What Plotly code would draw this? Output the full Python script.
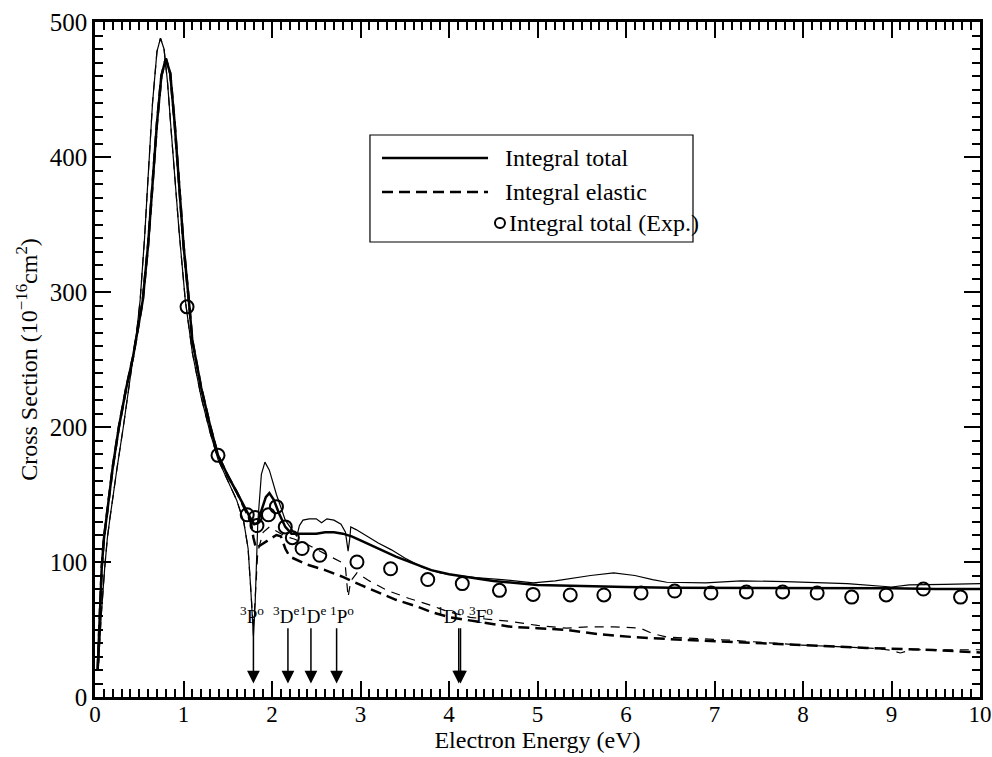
import plotly.graph_objects as go

# ---------------- data ----------------
# Theory (thick solid): integral total cross section
tot_E = [0.03, 0.05, 0.076, 0.1, 0.13, 0.16, 0.2, 0.27, 0.35, 0.43, 0.48, 0.54, 0.6, 0.65, 0.7,
         0.75, 0.8, 0.85, 0.9, 0.95, 1.0, 1.06, 1.1, 1.2, 1.3, 1.39, 1.5, 1.6, 1.7, 1.76, 1.8,
         1.84, 1.88, 1.93, 1.97, 2.02, 2.08, 2.15, 2.22, 2.3, 2.4, 2.5, 2.6, 2.7, 2.8, 2.9, 3.0,
         3.1, 3.2, 3.4, 3.6, 3.8, 4.0, 4.2, 4.5, 5.0, 5.5, 6.0, 6.5, 7.0, 7.5, 8.0, 8.5, 9.0,
         9.5, 10.0]
tot_S = [20, 55, 96, 117, 133, 150, 170, 200, 228, 252, 270, 294, 335, 378, 425,
         460, 473, 462, 425, 380, 335, 294, 264, 229, 201, 179, 164, 152, 139, 132, 128,
         129, 138, 148, 151, 146, 136, 126, 121, 121, 121, 121, 122, 122, 121, 119, 116,
         113, 110, 104, 99, 94, 91, 89, 86, 83, 82, 81.5, 81, 81, 81, 80.5, 80.5, 80.5,
         80, 80]

# Theory (thick dashed): integral elastic cross section
ela_E = [0.03, 0.05, 0.076, 0.1, 0.13, 0.16, 0.2, 0.27, 0.35, 0.43, 0.48, 0.54, 0.6, 0.65, 0.7,
         0.75, 0.8, 0.85, 0.9, 0.95, 1.0, 1.06, 1.1, 1.2, 1.3, 1.39, 1.5, 1.6, 1.7, 1.76, 1.79,
         1.82, 1.86, 1.95, 2.05, 2.1, 2.15, 2.2, 2.3, 2.4, 2.6, 2.8, 3.0, 3.22, 3.4, 3.64, 3.8,
         4.01, 4.2, 4.46, 4.7, 5.0, 5.33, 5.7, 6.08, 6.46, 7.2, 7.97, 8.72, 9.47, 10.0]
ela_S = [20, 55, 96, 117, 133, 150, 170, 200, 228, 252, 270, 294, 335, 378, 425,
         460, 473, 462, 425, 380, 335, 294, 264, 229, 201, 179, 164, 152, 139, 130, 118,
         110, 112, 116, 120, 119, 110, 104, 101, 98, 94, 89, 83, 77, 72, 67, 63,
         59, 57, 54.6, 52, 51, 49.6, 46.5, 44.4, 43, 40.7, 38.5, 36.3, 34.8, 33]

# Second calculation (thin solid): total
tot2_E = [0.04, 0.07, 0.11, 0.14, 0.17, 0.21, 0.25, 0.32, 0.38, 0.43, 0.47, 0.51, 0.56, 0.6, 0.65,
          0.7, 0.74, 0.78, 0.82, 0.86, 0.9, 0.95, 1.02, 1.1, 1.2, 1.3, 1.39, 1.5, 1.6, 1.68,
          1.73, 1.76, 1.79, 1.81, 1.84, 1.88, 1.92, 1.97, 2.05, 2.15, 2.28, 2.31, 2.35, 2.42,
          2.5, 2.56, 2.62, 2.7, 2.78, 2.83, 2.86, 2.88, 2.89, 2.95, 3.05, 3.2, 3.35, 3.5, 3.7,
          3.9, 4.1, 4.3, 4.6, 4.95, 5.2, 5.4, 5.6, 5.86, 6.1, 6.3, 6.46, 6.9, 7.3, 7.8, 8.5,
          9.0, 9.2, 9.6, 10.0]
tot2_S = [25, 60, 96, 118, 133, 152, 170, 200, 228, 252, 270, 294, 340, 385, 440,
          478, 488, 480, 455, 420, 385, 345, 294, 255, 222, 196, 176, 160, 146, 130,
          110, 80, 45, 70, 130, 165, 174, 168, 150, 131, 119, 127, 131, 132,
          132, 129, 132, 131, 128, 122, 108, 118, 126, 124, 120, 114, 109, 103, 96,
          92, 90, 88.5, 87, 84.5, 86, 88, 90, 92, 90, 87, 85, 84.5, 86, 85.5, 84,
          81.5, 83, 83.5, 84]

# Second calculation (thin dashed): elastic
ela2_E = [0.04, 0.07, 0.11, 0.14, 0.17, 0.21, 0.25, 0.32, 0.38, 0.43, 0.47, 0.51, 0.56, 0.6, 0.65,
          0.7, 0.74, 0.78, 0.82, 0.86, 0.9, 0.95, 1.02, 1.1, 1.2, 1.3, 1.39, 1.5, 1.6, 1.68,
          1.73, 1.76, 1.79, 1.84, 1.9, 1.97, 2.05, 2.15, 2.25, 2.4, 2.6, 2.78, 2.83, 2.86,
          2.89, 2.96, 3.1, 3.3, 3.55, 3.79, 4.0, 4.24, 4.45, 4.69, 5.0, 5.33, 5.6, 5.86, 6.16,
          6.3, 6.46, 7.2, 7.97, 8.5, 8.83, 9.0, 9.1, 9.23, 9.6, 10.0]
ela2_S = [25, 60, 96, 118, 133, 152, 170, 200, 228, 252, 270, 294, 340, 385, 440,
          478, 488, 480, 455, 420, 385, 345, 294, 255, 222, 196, 176, 160, 146, 130,
          110, 80, 50, 108, 122, 126, 123, 119, 117, 113, 106, 100, 96, 74,
          86, 92, 86, 79, 73, 68, 63, 59, 57.5, 56, 53, 51, 52, 52, 51,
          47, 44.4, 42, 38.5, 37, 36, 34.5, 32.6, 35, 35, 35]

# Experiment (open circles): integral total
exp_E = [1.04, 1.39, 1.72, 1.81, 1.83, 1.96, 2.05, 2.15, 2.23, 2.34, 2.54, 2.96, 3.34, 3.76,
         4.15, 4.57, 4.95, 5.37, 5.75, 6.17, 6.55, 6.96, 7.36, 7.77, 8.16, 8.55, 8.94, 9.36, 9.78]
exp_S = [289, 179, 135, 133, 127, 135, 141, 126, 118, 110, 105, 100, 95, 87,
         84, 79, 76, 75.6, 75.6, 77, 78.5, 77, 77.8, 77.8, 77, 74, 75.6, 80, 74]

# Resonance positions (arrows) and their labels
res_E = [1.79, 2.18, 2.44, 2.73, 4.11, 4.13]
res_labels = ["<sup>3</sup>P<sup>o</sup>", "<sup>3</sup>D<sup>e</sup>", "<sup>1</sup>D<sup>e</sup>",
              "<sup>1</sup>P<sup>o</sup>", "<sup>1</sup>D<sup>o</sup>", "<sup>3</sup>F<sup>o</sup>"]
res_label_E = [1.77, 2.155, 2.465, 2.79, 4.02, 4.36]

legend_names = ["Integral total", "Integral elastic", "Integral total (Exp.)"]

FONT = "Liberation Serif, Times New Roman, serif"

fig = go.Figure()
fig.add_trace(go.Scatter(x=tot2_E, y=tot2_S, mode="lines", line=dict(color="black", width=1.2),
                         showlegend=False))
fig.add_trace(go.Scatter(x=ela2_E, y=ela2_S, mode="lines",
                         line=dict(color="black", width=1.2, dash="9px,7px"), showlegend=False))
fig.add_trace(go.Scatter(x=ela_E, y=ela_S, mode="lines",
                         line=dict(color="black", width=2.5, dash="11px,6px"), showlegend=False))
fig.add_trace(go.Scatter(x=tot_E, y=tot_S, mode="lines", line=dict(color="black", width=2.5),
                         showlegend=False))
fig.add_trace(go.Scatter(x=exp_E, y=exp_S, mode="markers",
                         marker=dict(symbol="circle-open", size=13, color="black",
                                     line=dict(color="black", width=2)),
                         showlegend=False))

# resonance arrows
for e in res_E:
    fig.add_annotation(x=e, y=10, ax=e, ay=52, xref="x", yref="y", axref="x", ayref="y",
                       text="", showarrow=True, arrowhead=2, arrowsize=1.7, arrowwidth=1.5,
                       arrowcolor="black", standoff=0)
for lab, e in zip(res_labels, res_label_E):
    fig.add_annotation(x=e, y=61, xref="x", yref="y", text=lab, showarrow=False,
                       font=dict(family=FONT, size=19, color="black"),
                       xanchor="center", yanchor="middle")

# custom legend (paper coordinates)
fig.add_shape(type="rect", xref="paper", yref="paper", x0=0.3107, x1=0.6757, y0=0.6741, y1=0.8326,
              line=dict(color="black", width=1.2), fillcolor="white", layer="above")
rows_y = [0.7985, 0.7481, 0.7022]
fig.add_shape(type="line", xref="paper", yref="paper", x0=0.3243, x1=0.4441, y0=rows_y[0], y1=rows_y[0],
              line=dict(color="black", width=2.5))
fig.add_shape(type="line", xref="paper", yref="paper", x0=0.3243, x1=0.4441, y0=rows_y[1], y1=rows_y[1],
              line=dict(color="black", width=2.5, dash="11px,6px"))
fig.add_shape(type="circle", xref="paper", yref="paper", xsizemode="pixel", ysizemode="pixel",
              xanchor=0.4576, yanchor=rows_y[2], x0=-5, x1=5, y0=-5, y1=5,
              line=dict(color="black", width=2))
for name, yy, xx in zip(legend_names, rows_y, [0.4610, 0.4610, 0.4655]):
    fig.add_annotation(x=xx, y=yy, xref="paper", yref="paper", text=name, showarrow=False,
                       xanchor="left", yanchor="middle",
                       font=dict(family=FONT, size=24, color="black"))

axis_common = dict(showline=True, linecolor="black", linewidth=2.5, mirror="allticks",
                   ticks="inside", tickcolor="black", tickwidth=2, showgrid=False, zeroline=False)
fig.update_xaxes(range=[0, 10], dtick=1, tick0=0, ticklen=16, ticklabelstandoff=-5,
                 tickfont=dict(family=FONT, size=23, color="black"),
                 minor=dict(dtick=0.1, ticks="inside", ticklen=8, tickwidth=1.5, tickcolor="black",
                            showgrid=False),
                 title=dict(text="Electron Energy (eV)", font=dict(family=FONT, size=24, color="black"),
                            standoff=2),
                 automargin=False, **axis_common)
fig.update_yaxes(range=[0, 500], dtick=100, tick0=0, ticklen=16,
                 tickfont=dict(family=FONT, size=25, color="black"),
                 minor=dict(dtick=10, ticks="inside", ticklen=8, tickwidth=1.5, tickcolor="black",
                            showgrid=False),
                 title=dict(text="Cross Section (10<sup>\u221216</sup>cm<sup>2</sup>)",
                            font=dict(family=FONT, size=24, color="black"), standoff=6),
                 automargin=False, **axis_common)

fig.update_layout(width=992, height=757, margin=dict(l=95, r=12, t=22, b=60),
                  paper_bgcolor="white", plot_bgcolor="white",
                  font=dict(family=FONT, color="black"))

fig.write_html("out.html")
